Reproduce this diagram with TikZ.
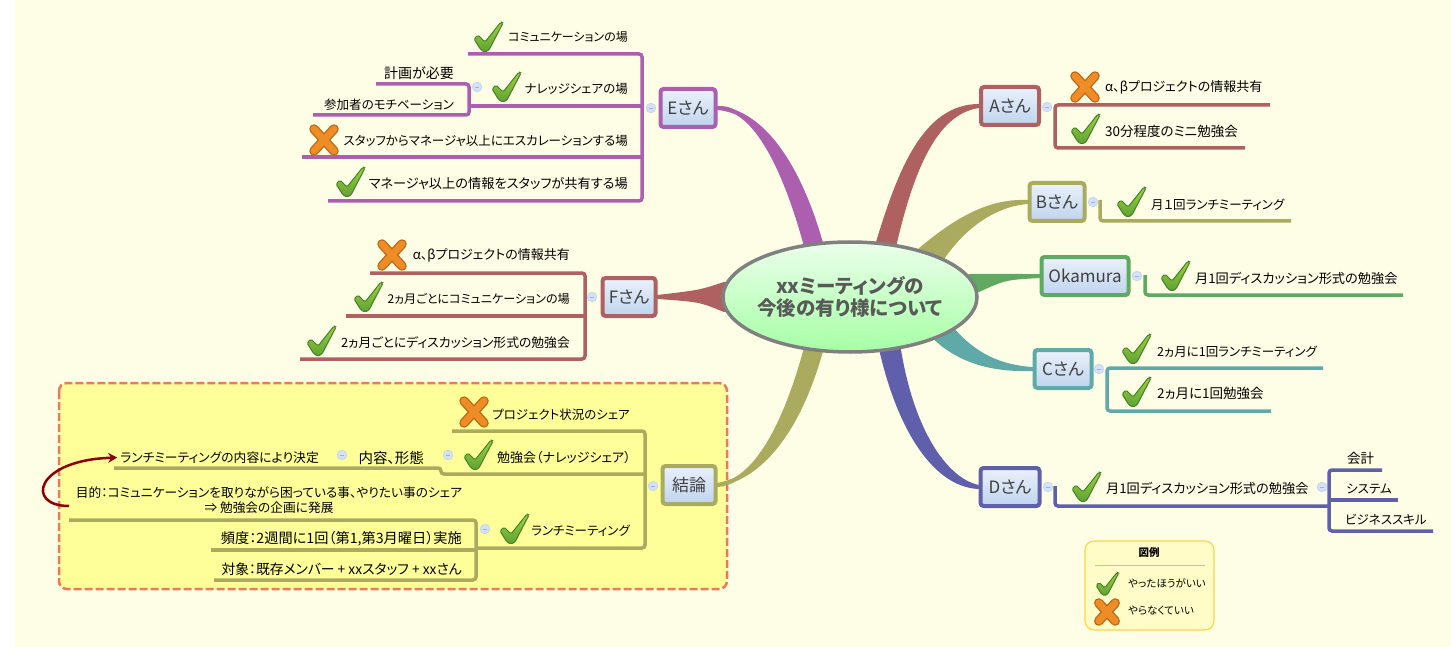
\documentclass[tikz,border=0pt]{standalone}
\usepackage{fontspec}
\setmainfont[RawFeature=+palt]{Noto Sans CJK JP}
\usetikzlibrary{positioning,shapes.geometric,arrows.meta,backgrounds}
\definecolor{paper}{HTML}{FEFEE6}
\definecolor{purp}{HTML}{AB5FAE}
\definecolor{brick}{HTML}{AF6060}
\definecolor{olive}{HTML}{ABAB5F}
\definecolor{leaf}{HTML}{5DAA60}
\definecolor{teal2}{HTML}{5FA9A8}
\definecolor{indigo}{HTML}{5F5FAB}
\definecolor{boxtop}{HTML}{EAF1FB}
\definecolor{boxbottom}{HTML}{BFD4EE}
\definecolor{checktop}{HTML}{A4D040}
\definecolor{checkbottom}{HTML}{5CA332}
\definecolor{checkedge}{HTML}{3F8028}
\definecolor{crossedge}{HTML}{BC6414}
\definecolor{crossfill}{HTML}{EE8C26}
\definecolor{notefill}{HTML}{FFFF99}
\definecolor{notedash}{HTML}{E87A5E}
\definecolor{foldfill}{HTML}{D4E2F6}
\definecolor{foldedge}{HTML}{C4D6F0}
\tikzset{main node/.style={ellipse,draw=black!50,line width=3.5pt,top color=green!8,bottom color=green!35,
              minimum width=254,minimum height=110,inner sep=-8pt,align=center,text=black!65,
              font=\fontsize{19.5}{22}\selectfont\bfseries},
         topic node/.style={rectangle,rounded corners=3pt,line width=4pt,top color=boxtop,bottom color=boxbottom,
              minimum height=38,inner sep=0pt,text=black!75,font=\fontsize{17}{20}\selectfont},
         item size/.style={font=\fontsize{#1}{15}\selectfont},
         item node/.style={inner sep=0pt,text=black,yshift=-1.5pt,item size=12.5},
         small node/.style={inner sep=0pt,text=black,font=\fontsize{10.5}{13}\selectfont},
         fold node/.style={circle,fill=foldfill,draw=foldedge,line width=.8pt,minimum size=9.5,inner sep=0pt,
              path picture={\draw[blue!35,line width=.6pt] ([xshift=-2pt]path picture bounding box.center) -- ([xshift=2pt]path picture bounding box.center);}},
         stem/.style={line width=3.5pt,rounded corners=3pt},
         branch/.style={line width=4pt,line join=round},
         checkmark/.pic={
              \shade[top color=checktop,bottom color=checkbottom,draw=checkedge,line width=1pt,rounded corners=1.5pt]
                (-14,2) -- (-10,-2) -- (-3,5) -- (13,-15) -- (15,-14) -- (1,13) -- (-3,15) -- (-7,13) -- cycle;},
         crossmark/.pic={
              \draw[line width=9.5pt,line cap=round,crossedge] (-10,-11) -- (10,11) (10,-11) -- (-10,11);
              \draw[line width=7pt,line cap=round,crossfill] (-10,-11) -- (10,11) (10,-11) -- (-10,11);},
        }
\begin{document}
\begin{tikzpicture}[x=1pt,y=-1pt]
    \useasboundingbox (0,0) rectangle (1451,647);

    % centre and first level
    \node[main node] (main) at (850,297) {xxミーティングの\\今後の有り様について};
    \node[topic node,draw=purp,minimum width=55] (E) at (688,108) {Eさん};
    \node[topic node,draw=brick,minimum width=53] (F) at (629,297) {Fさん};
    \node[topic node,draw=olive,minimum width=53] (K) at (689,485) {結論};
    \node[topic node,draw=brick,minimum width=58] (A) at (1010,106) {Aさん};
    \node[topic node,draw=olive,minimum width=55] (B) at (1057,202) {Bさん};
    \node[topic node,draw=leaf,minimum width=87] (O) at (1085,276) {Okamura};
    \node[topic node,draw=teal2,minimum width=57] (C) at (1063,369) {Cさん};
    \node[topic node,draw=indigo,minimum width=59] (D) at (1010,487) {Dさん};

    \begin{scope}[on background layer]
    \fill[white] (0,0) rectangle (1451,647);
    \fill[paper] (15,0) rectangle (1451,647);
    \draw[line width=2.5pt,draw=notedash,fill=notefill,rounded corners=8pt,dash pattern=on 8pt off 3pt] (59,383) rectangle (727,589);
    \filldraw[branch,purp] (main.130) .. controls (785,170) and (755,106) .. (E.east) .. controls (765,112) and (800,170) .. (main.118) -- cycle;
    \filldraw[branch,brick] (main.174) .. controls (700,292) .. (F.east) .. controls (700,300) .. (main.186) -- cycle;
    \filldraw[branch,olive] (main.-130) .. controls (785,425) and (755,482) .. (K.east) .. controls (765,476) and (800,425) .. (main.-118) -- cycle;
    \filldraw[branch,brick] (main.63) .. controls (900,170) and (925,106) .. (A.west) .. controls (935,112) and (912,170) .. (main.50) -- cycle;
    \filldraw[branch,olive] (main.34) .. controls (950,225) and (985,200) .. (B.west) .. controls (990,205) and (960,232) .. (main.23) -- cycle;
    \filldraw[branch,leaf] (main.10) .. controls (1000,276) .. (O.west) .. controls (1005,278) .. (main.3) -- cycle;
    \filldraw[branch,teal2] (main.-26) .. controls (965,365) and (1000,370) .. (C.west) .. controls (1000,367) and (975,355) .. (main.-18) -- cycle;
    \filldraw[branch,indigo] (main.-60) .. controls (900,430) and (935,485) .. (D.west) .. controls (945,480) and (912,430) .. (main.-47) -- cycle;
    \end{scope}

    % E
    \node[item node,item size=12,anchor=east] (e1) at (628,36) {コミュニケーションの場};
    \node[item node,anchor=east] (e2) at (628,87) {ナレッジシェアの場};
    \node[item node,anchor=east] (e3) at (628,139) {スタッフからマネージャ以上にエスカレーションする場};
    \node[item node,item size=13.2,anchor=east] (e4) at (628,182) {マネージャ以上の情報をスタッフが共有する場};
    \node[item node,item size=14,anchor=east] (e21) at (454,72) {計画が必要};
    \node[item node,anchor=east] (e22) at (454,103) {参加者のモチベーション};
    \pic at (488,37) {checkmark};
    \pic at (506,87) {checkmark};
    \pic at (324,140) {crossmark};
    \pic at (350,182) {checkmark};
    \coordinate (e1a) at (468,54);
    \coordinate (e2a) at (469,106);
    \coordinate (e3a) at (302,157);
    \coordinate (e4a) at (328,201);
    \coordinate (er) at (642,108);
    \coordinate (e21a) at (376,84);
    \coordinate (e22a) at (313,115);
    \coordinate (e2r) at (469,100);
    \draw[stem,purp] (e1a) -| (er) |- (e4a);
    \draw[stem,purp] (e2a) -- (e2a -| er);
    \draw[stem,purp] (e3a) -- (e3a -| er);
    \draw[stem,purp] (e21a) -| (e2r) |- (e22a);
    \node[fold node] (ef) at (651,108) {};
    \node[fold node] (e2f) at (477,87) {};

    % F
    \node[item node,item size=13,anchor=east] (f1) at (570,254) {α、βプロジェクトの情報共有};
    \node[item node,item size=12.1,anchor=east] (f2) at (570,297) {2ヵ月ごとにコミュニケーションの場};
    \node[item node,item size=12.8,anchor=east] (f3) at (570,341) {2ヵ月ごとにディスカッション形式の勉強会};
    \pic at (392,255) {crossmark};
    \pic at (368,297) {checkmark};
    \pic at (321,341) {checkmark};
    \coordinate (f1a) at (370,273);
    \coordinate (f2a) at (346,316);
    \coordinate (f3a) at (300,359);
    \coordinate (fr) at (585,316);
    \draw[stem,brick] (f1a) -| (fr) |- (f3a);
    \draw[stem,brick] (f2a) -- (fr);
    \node[fold node] (ff) at (592,297) {};

    % conclusion
    \node[item node,anchor=east] (k1) at (630,413) {プロジェクト状況のシェア};
    \node[item node,item size=13,anchor=east] (k2) at (631,456) {勉強会（ナレッジシェア）};
    \node[item node,anchor=east] (k3) at (630,529) {ランチミーティング};
    \node[item node,item size=14.5,anchor=east] (form) at (424,456) {内容、形態};
    \node[item node,item size=12.8,anchor=east] (lunch) at (319,456) {ランチミーティングの内容により決定};
    \node[item node,item size=12.7,align=center] (purpose) at (269,499) {目的：コミュニケーションを取りながら困っている事、やりたい事のシェア\\⇒ 勉強会の企画に発展};
    \node[item node,item size=14.2,anchor=east] (freq) at (462,537) {頻度：2週間に1回（第1,第3月曜日）実施};
    \node[item node,item size=13.8,anchor=east] (target) at (462,568) {対象：既存メンバー + xxスタッフ + xxさん};
    \pic at (474,412) {crossmark};
    \pic at (478,455) {checkmark};
    \pic at (514,529) {checkmark};
    \coordinate (k1a) at (452,431);
    \coordinate (k2a) at (114,468);
    \coordinate (k2b) at (441,468);
    \coordinate (k2c) at (441,474);
    \coordinate (k3a) at (476,548);
    \coordinate (kr) at (645,474);
    \coordinate (pa) at (69,520);
    \coordinate (fa) at (211,550);
    \coordinate (ta) at (214,580);
    \coordinate (pr) at (476,550);
    \coordinate (ps) at (69,506);
    \draw[stem,olive] (k1a) -| (kr) |- (k3a);
    \draw[stem,olive] (k2a) -- (k2b) -- (k2c) -- (kr);
    \draw[stem,olive] (pa) -| (pr) |- (ta);
    \draw[stem,olive] (fa) -- (pr);
    \draw[line width=2.5pt,red!55!black,shorten >=3pt,-{Stealth[length=9pt,width=10pt]}] (ps) .. controls (25,506) and (35,460) .. (lunch.west);
    \node[fold node] (kf) at (653,486) {};
    \node[fold node] (k2f) at (448,455) {};
    \node[fold node] (formf) at (342,455) {};
    \node[fold node] (k3f) at (485,529) {};

    % A
    \node[item node,item size=13,anchor=west] (a1) at (1105,86) {α、βプロジェクトの情報共有};
    \node[item node,item size=13.5,anchor=west] (a2) at (1105,130) {30分程度のミニ勉強会};
    \pic at (1085,87) {crossmark};
    \pic at (1085,129) {checkmark};
    \coordinate (a1a) at (1270,105);
    \coordinate (a2a) at (1245,148);
    \coordinate (ar) at (1055,105);
    \draw[stem,brick] (a1a) -- (ar) |- (a2a);
    \node[fold node] (af) at (1047,107) {};

    % B
    \node[item node,anchor=west] (b1) at (1151,203) {月１回ランチミーティング};
    \pic at (1131,202) {checkmark};
    \coordinate (b1a) at (1100,200);
    \coordinate (b1b) at (1291,221);
    \draw[stem,olive] (b1a) |- (b1b);
    \node[fold node] (bf) at (1093,202) {};

    % Okamura
    \node[item node,item size=13.2,anchor=west] (o1) at (1195,277) {月1回ディスカッション形式の勉強会};
    \pic at (1175,276) {checkmark};
    \coordinate (o1a) at (1145,275);
    \coordinate (o1b) at (1403,295);
    \draw[stem,leaf] (o1a) |- (o1b);
    \node[fold node] (of) at (1137,276) {};

    % C
    \node[item node,anchor=west] (c1) at (1157,350) {2ヵ月に1回ランチミーティング};
    \node[item node,item size=13.5,anchor=west] (c2) at (1157,392) {2ヵ月に1回勉強会};
    \pic at (1136,349) {checkmark};
    \pic at (1136,392) {checkmark};
    \coordinate (c1a) at (1323,368);
    \coordinate (c2a) at (1271,411);
    \coordinate (cr) at (1107,368);
    \draw[stem,teal2] (c1a) -- (cr) |- (c2a);
    \node[fold node] (cf) at (1099,369) {};

    % D
    \node[item node,item size=13.2,anchor=west] (d1) at (1106,487) {月1回ディスカッション形式の勉強会};
    \node[item node,item size=13.5,anchor=west] (d11) at (1347,457) {会計};
    \node[item node,anchor=west] (d12) at (1346,487) {システム};
    \node[item node,anchor=west] (d13) at (1345,518) {ビジネススキル};
    \pic at (1086,487) {checkmark};
    \coordinate (d1a) at (1055,486);
    \coordinate (d1b) at (1329,506);
    \coordinate (d11a) at (1382,470);
    \coordinate (d12a) at (1398,500);
    \coordinate (d13a) at (1433,531);
    \coordinate (dr) at (1329,500);
    \draw[stem,indigo] (d1a) |- (d1b);
    \draw[stem,indigo] (d11a) -| (dr) |- (d13a);
    \draw[stem,indigo] (d12a) -- (dr);
    \node[fold node] (df) at (1048,487) {};
    \node[fold node] (d1f) at (1322,487) {};

    % legend
    \node[draw=yellow!60!orange!70,line width=1.2pt,fill=yellow!22,rounded corners=9pt,minimum width=129,minimum height=89] (legend) at (1149.5,585.5) {};
    \node[small node,font=\fontsize{10.5}{13}\selectfont\bfseries] (legendtitle) at (1149,553) {図例};
    \coordinate (ll) at (1095,565);
    \coordinate (lr) at (1205,565);
    \draw[yellow!60!orange,line width=.7pt] (ll) -- (lr);
    \pic[scale=.78] at (1107,584) {checkmark};
    \pic[scale=.82] at (1107,612) {crossmark};
    \node[small node,anchor=west] (legendyes) at (1128,583) {やったほうがいい};
    \node[small node,anchor=west] (legendno) at (1128,611) {やらなくていい};
\end{tikzpicture}
\end{document}
